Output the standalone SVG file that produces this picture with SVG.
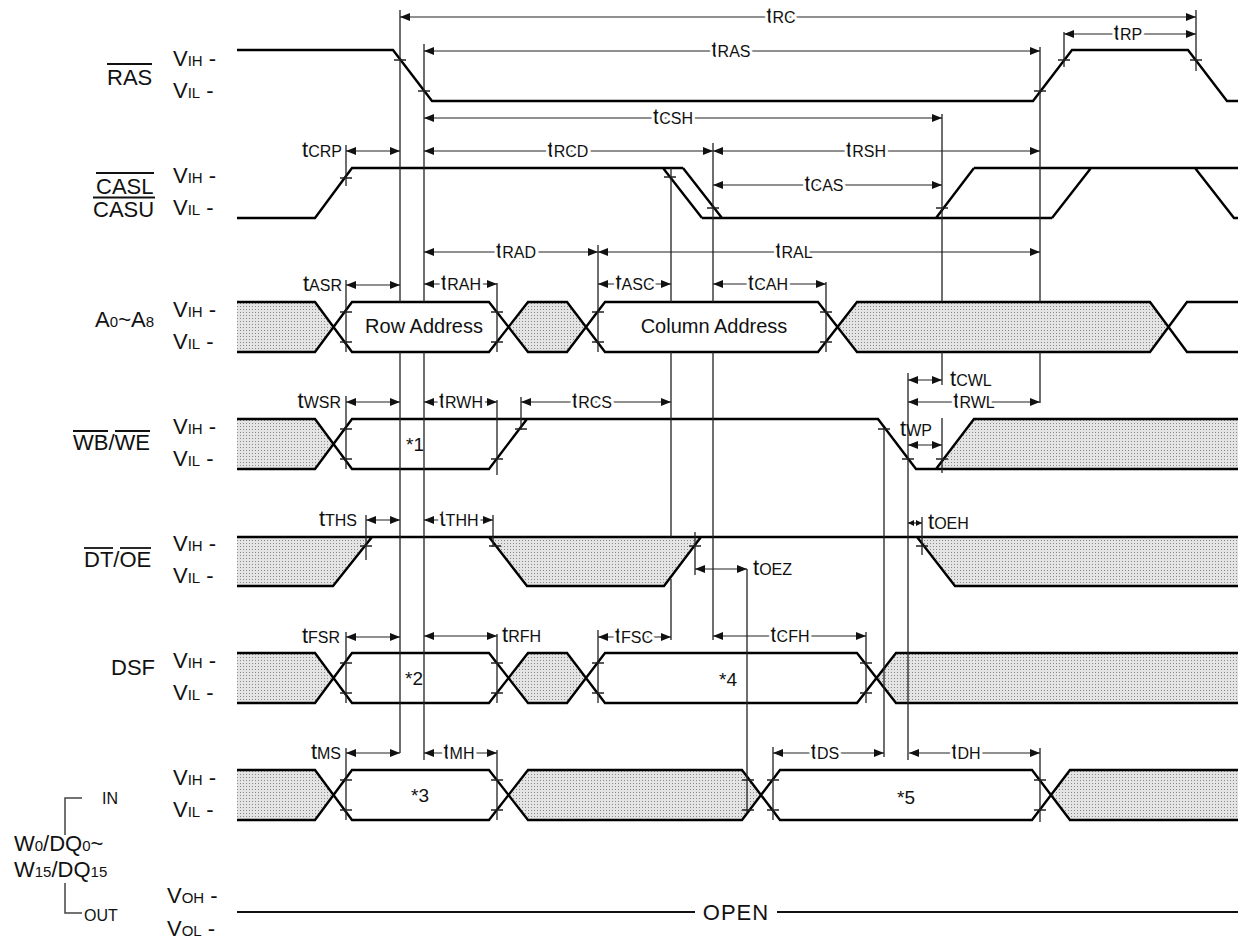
<svg xmlns="http://www.w3.org/2000/svg" width="1238" height="940" viewBox="0 0 1238 940">
<defs>
<pattern id="dots" width="3" height="3" patternUnits="userSpaceOnUse"><rect width="3" height="3" fill="#e4e4e4"/><rect width="1" height="1" fill="#8a8a8a"/></pattern>
<marker id="ah" markerUnits="userSpaceOnUse" markerWidth="10" markerHeight="8" refX="10" refY="4" orient="auto-start-reverse"><path d="M0,0 L10,4 L0,8 z" fill="#111"/></marker>
<marker id="ahs" markerUnits="userSpaceOnUse" markerWidth="6" markerHeight="6" refX="6" refY="3" orient="auto-start-reverse"><path d="M0,0 L6,3 L0,6 z" fill="#111"/></marker>
<style>
text{font-family:"Liberation Sans",Arial,sans-serif;fill:#111}
.sig{font-size:22px}
.sub{font-size:15px}
.tm{font-size:16px}
.tt{font-size:22px}
.halo{stroke:#fff;stroke-width:6px;paint-order:stroke;stroke-linejoin:round}
.box{font-size:20px}
.wave{fill:none;stroke:#000;stroke-width:2.4;stroke-linejoin:miter}
.gray{fill:url(#dots);stroke:none}
.ref{stroke:#222;stroke-width:1.3;fill:none}
.tick{stroke:#222;stroke-width:1.3;fill:none}
.dim{stroke:#222;stroke-width:1.2;fill:none;marker-start:url(#ah);marker-end:url(#ah)}
.dims{stroke:#222;stroke-width:1.2;fill:none;marker-start:url(#ahs);marker-end:url(#ahs)}
.ovl{stroke:#111;stroke-width:1.8}
</style>
</defs>
<rect width="1238" height="940" fill="#fff"/>

<!-- signal: RAS -->
<g id="sig-ras">
<text class="sig" x="107" y="85">RAS</text>
<line class="ovl" x1="107" y1="64" x2="152" y2="64"/>
<text class="sig" x="173" y="66">V<tspan class="sub">IH</tspan> -</text>
<text class="sig" x="173" y="98">V<tspan class="sub">IL</tspan> -</text>
<path class="wave" d="M237,50 H393 L432,101 H1033 L1072,50 H1188 L1227,101 H1238"/>
</g>

<!-- signal: CASL/CASU -->
<g id="sig-cas">
<text class="sig" x="96" y="194">CASL</text>
<text class="sig" x="93" y="217">CASU</text>
<line class="ovl" x1="96" y1="173" x2="154" y2="173"/>
<line class="ovl" x1="93" y1="197.5" x2="155" y2="197.5"/>
<text class="sig" x="173" y="183">V<tspan class="sub">IH</tspan> -</text>
<text class="sig" x="173" y="215">V<tspan class="sub">IL</tspan> -</text>
<path class="wave" d="M237,218 H315 L352,168 H683 M663,168 L702,218 M683,168 L722,218 M702,218 H1052 M936,218 L974,168 M1052,218 L1091,168 M974,168 H1238 M1195,168 L1234,218 H1238"/>
</g>

<!-- signal: A0~A8 -->
<g id="sig-addr">
<text class="sig" x="154" y="327" text-anchor="end">A<tspan class="sub">0</tspan>~A<tspan class="sub">8</tspan></text>
<text class="sig" x="173" y="317">V<tspan class="sub">IH</tspan> -</text>
<text class="sig" x="173" y="349">V<tspan class="sub">IL</tspan> -</text>
<polygon class="gray" points="237,302 315,302 333,327 315,352 237,352"/>
<polygon class="gray" points="508,327 528,302 567,302 586,327 567,352 528,352"/>
<polygon class="gray" points="837,327 857,302 1150,302 1168,327 1150,352 857,352"/>
<path class="wave" d="M237,302 H315 L352,352 H489 L528,302 H567 L605,352 H818 L857,302 H1150 L1187,352 H1238 M237,352 H315 L352,302 H489 L528,352 H567 L605,302 H818 L857,352 H1150 L1187,302 H1238"/>
<text class="box" x="424" y="333" text-anchor="middle">Row Address</text>
<text class="box" x="714" y="333" text-anchor="middle">Column Address</text>
</g>

<!-- signal: WB/WE -->
<g id="sig-wbwe">
<text class="sig" x="73" y="450">WB/WE</text>
<line class="ovl" x1="73" y1="431" x2="108" y2="431"/>
<line class="ovl" x1="115" y1="431" x2="150" y2="431"/>
<text class="sig" x="173" y="434">V<tspan class="sub">IH</tspan> -</text>
<text class="sig" x="173" y="466">V<tspan class="sub">IL</tspan> -</text>
<polygon class="gray" points="237,419 315,419 333,444 315,469 237,469"/>
<polygon class="gray" points="974,419 1238,419 1238,469 936,469"/>
<path class="wave" d="M237,419 H315 L352,469 H489 L527,419 H878 L916,469 H1238 M237,469 H315 L352,419 H527 M936,469 L974,419 H1238"/>
<text class="box" x="406" y="451" style="font-size:19px">*1</text>
</g>

<!-- signal: DT/OE -->
<g id="sig-dtoe">
<text class="sig" x="84" y="567">DT/OE</text>
<line class="ovl" x1="84" y1="548" x2="113" y2="548"/>
<line class="ovl" x1="120" y1="548" x2="151" y2="548"/>
<text class="sig" x="173" y="551">V<tspan class="sub">IH</tspan> -</text>
<text class="sig" x="173" y="583">V<tspan class="sub">IL</tspan> -</text>
<polygon class="gray" points="237,537 372,537 333,586 237,586"/>
<polygon class="gray" points="489,537 527,586 664,586 701,537"/>
<polygon class="gray" points="917,537 1238,537 1238,586 955,586"/>
<path class="wave" d="M237,537 H1238 M237,586 H333 L372,537 M489,537 L527,586 H664 L701,537 M917,537 L955,586 H1238"/>
</g>

<!-- signal: DSF -->
<g id="sig-dsf">
<text class="sig" x="111" y="675">DSF</text>
<text class="sig" x="173" y="668">V<tspan class="sub">IH</tspan> -</text>
<text class="sig" x="173" y="700">V<tspan class="sub">IL</tspan> -</text>
<polygon class="gray" points="237,653 315,653 333,678 315,703 237,703"/>
<polygon class="gray" points="508,678 528,653 567,653 586,678 567,703 528,703"/>
<polygon class="gray" points="876,678 896,653 1238,653 1238,703 896,703"/>
<path class="wave" d="M237,653 H315 L352,703 H489 L528,653 H567 L605,703 H857 L896,653 H1238 M237,703 H315 L352,653 H489 L528,703 H567 L605,653 H857 L896,703 H1238"/>
<text class="box" x="405" y="685" style="font-size:19px">*2</text>
<text class="box" x="719" y="686" style="font-size:19px">*4</text>
</g>

<!-- signal: W0/DQ0~W15/DQ15 -->
<g id="sig-dq">
<text class="sig" x="14" y="851">W<tspan class="sub">0</tspan>/DQ<tspan class="sub">0</tspan>~</text>
<text class="sig" x="14" y="877">W<tspan class="sub">15</tspan>/DQ<tspan class="sub">15</tspan></text>
<path d="M82,798 H65 V835 M65,883 V913 H82" fill="none" stroke="#444" stroke-width="1.5"/>
<text x="102" y="804" style="font-size:16px">IN</text>
<text x="84" y="921" style="font-size:16px">OUT</text>
<text class="sig" x="173" y="785">V<tspan class="sub">IH</tspan> -</text>
<text class="sig" x="173" y="817">V<tspan class="sub">IL</tspan> -</text>
<text class="sig" x="167" y="903">V<tspan class="sub">OH</tspan> -</text>
<text class="sig" x="167" y="936">V<tspan class="sub">OL</tspan> -</text>
<polygon class="gray" points="237,770 315,770 333,795 315,820 237,820"/>
<polygon class="gray" points="508,795 528,770 742,770 761,795 742,820 528,820"/>
<polygon class="gray" points="1051,795 1070,770 1238,770 1238,820 1070,820"/>
<path class="wave" d="M237,770 H315 L352,820 H489 L528,770 H742 L780,820 H1032 L1070,770 H1238 M237,820 H315 L352,770 H489 L528,820 H742 L780,770 H1032 L1070,820 H1238"/>
<text class="box" x="411" y="802" style="font-size:19px">*3</text>
<text class="box" x="897" y="804" style="font-size:19px">*5</text>
<path d="M237,912 H695 M777,912 H1238" fill="none" stroke="#111" stroke-width="2"/>
<text x="736" y="920" text-anchor="middle" style="font-size:22px;letter-spacing:1px">OPEN</text>
</g>

<!-- connectors: reference lines, ticks, timing dimensions -->
<g id="connectors">
<path class="ref" d="M400,10 V302 M400,352 V753 M424,44 V302 M424,352 V760 M1040,47 V302 M1040,352 V403 M1040,748 V822 M1196,10 V71 M1064,32 V67 M942,114 V302 M942,352 V385 M942,418 V473 M671,168 V302 M671,352 V537 M671,579 V640 M713,143 V302 M713,352 V640 M346,145 V186 M346,280 V352 M346,396 V469 M346,632 V703 M346,748 V820 M366,515 V560 M497,283 V352 M497,400 V475 M497,634 V703 M497,750 V820 M493,515 V547 M521,397 V430 M598,245 V352 M598,630 V703 M826,282 V352 M695,532 V575 M747,569 V812 M773,747 V820 M866,632 V703 M884,428 V757 M908,373 V760 M922,517 V555"/>
<path class="tick" d="M394,60 h12 M418,91 h12 M1034,91 h12 M1058,60 h12 M1190,60 h12 M340,178 h12 M664,177 h12 M707,208 h12 M936,208 h12 M340,312 h12 M340,342 h12 M491,312 h12 M491,342 h12 M592,312 h12 M592,342 h12 M820,312 h12 M820,342 h12 M340,429 h12 M340,459 h12 M491,459 h12 M515,429 h12 M878,429 h12 M902,459 h12 M936,459 h12 M360,546 h12 M489,546 h12 M689,546 h12 M916,546 h12 M340,663 h12 M340,693 h12 M491,663 h12 M491,693 h12 M592,663 h12 M592,693 h12 M860,663 h12 M860,693 h12 M340,780 h12 M340,810 h12 M491,780 h12 M491,810 h12 M742,780 h12 M742,810 h12 M767,780 h12 M767,810 h12 M1034,780 h12 M1034,810 h12"/>

<line class="dim" x1="400" y1="17" x2="1196" y2="17"/>
<text class="tm halo" x="781" y="23" text-anchor="middle"><tspan class="tt">t</tspan>RC</text>
<line class="dim" x1="424" y1="51" x2="1040" y2="51"/>
<text class="tm halo" x="731" y="57" text-anchor="middle"><tspan class="tt">t</tspan>RAS</text>
<line class="dim" x1="1064" y1="34" x2="1196" y2="34"/>
<text class="tm halo" x="1128" y="40" text-anchor="middle"><tspan class="tt">t</tspan>RP</text>
<line class="dim" x1="424" y1="118" x2="942" y2="118"/>
<text class="tm halo" x="673" y="124" text-anchor="middle"><tspan class="tt">t</tspan>CSH</text>
<line class="dim" x1="424" y1="151" x2="713" y2="151"/>
<text class="tm halo" x="568" y="157" text-anchor="middle"><tspan class="tt">t</tspan>RCD</text>
<line class="dim" x1="713" y1="151" x2="1040" y2="151"/>
<text class="tm halo" x="866" y="157" text-anchor="middle"><tspan class="tt">t</tspan>RSH</text>
<line class="dim" x1="713" y1="185" x2="942" y2="185"/>
<text class="tm halo" x="824" y="191" text-anchor="middle"><tspan class="tt">t</tspan>CAS</text>
<line class="dim" x1="346" y1="151" x2="400" y2="151"/>
<text class="tm" x="342" y="157" text-anchor="end"><tspan class="tt">t</tspan>CRP</text>

<line class="dim" x1="424" y1="252" x2="598" y2="252"/>
<text class="tm halo" x="516" y="258" text-anchor="middle"><tspan class="tt">t</tspan>RAD</text>
<line class="dim" x1="598" y1="252" x2="1040" y2="252"/>
<text class="tm halo" x="794" y="258" text-anchor="middle"><tspan class="tt">t</tspan>RAL</text>
<line class="dim" x1="346" y1="285" x2="400" y2="285"/>
<text class="tm" x="342" y="291" text-anchor="end"><tspan class="tt">t</tspan>ASR</text>
<line class="dim" x1="424" y1="284" x2="497" y2="284"/>
<text class="tm halo" x="461" y="290" text-anchor="middle"><tspan class="tt">t</tspan>RAH</text>
<line class="dim" x1="598" y1="284" x2="671" y2="284"/>
<text class="tm halo" x="635" y="290" text-anchor="middle"><tspan class="tt">t</tspan>ASC</text>
<line class="dim" x1="713" y1="284" x2="826" y2="284"/>
<text class="tm halo" x="768" y="290" text-anchor="middle"><tspan class="tt">t</tspan>CAH</text>

<line class="dim" x1="346" y1="402" x2="400" y2="402"/>
<text class="tm" x="341" y="408" text-anchor="end"><tspan class="tt">t</tspan>WSR</text>
<line class="dim" x1="424" y1="402" x2="497" y2="402"/>
<text class="tm halo" x="461" y="408" text-anchor="middle"><tspan class="tt">t</tspan>RWH</text>
<line class="dim" x1="521" y1="402" x2="671" y2="402"/>
<text class="tm halo" x="592" y="408" text-anchor="middle"><tspan class="tt">t</tspan>RCS</text>
<line class="dim" x1="908" y1="380" x2="942" y2="380"/>
<text class="tm" x="950" y="386"><tspan class="tt">t</tspan>CWL</text>
<line class="dim" x1="908" y1="402" x2="1040" y2="402"/>
<text class="tm halo" x="974" y="408" text-anchor="middle"><tspan class="tt">t</tspan>RWL</text>
<line class="dim" x1="908" y1="445" x2="942" y2="445"/>
<text class="tm" x="900" y="436"><tspan class="tt">t</tspan>WP</text>

<line class="dim" x1="366" y1="520" x2="400" y2="520"/>
<text class="tm" x="357" y="526" text-anchor="end"><tspan class="tt">t</tspan>THS</text>
<line class="dim" x1="424" y1="520" x2="493" y2="520"/>
<text class="tm halo" x="459" y="526" text-anchor="middle"><tspan class="tt">t</tspan>THH</text>
<line class="dim" x1="695" y1="569" x2="747" y2="569"/>
<text class="tm" x="753" y="575"><tspan class="tt">t</tspan>OEZ</text>
<line class="dims" x1="908" y1="523" x2="922" y2="523"/>
<text class="tm" x="928" y="529"><tspan class="tt">t</tspan>OEH</text>

<line class="dim" x1="346" y1="637" x2="400" y2="637"/>
<text class="tm" x="340" y="643" text-anchor="end"><tspan class="tt">t</tspan>FSR</text>
<line class="dim" x1="424" y1="636" x2="497" y2="636"/>
<text class="tm" x="502" y="642"><tspan class="tt">t</tspan>RFH</text>
<line class="dim" x1="598" y1="637" x2="671" y2="637"/>
<text class="tm halo" x="634" y="643" text-anchor="middle"><tspan class="tt">t</tspan>FSC</text>
<line class="dim" x1="713" y1="636" x2="866" y2="636"/>
<text class="tm halo" x="790" y="642" text-anchor="middle"><tspan class="tt">t</tspan>CFH</text>

<line class="dim" x1="346" y1="753" x2="400" y2="753"/>
<text class="tm" x="341" y="759" text-anchor="end"><tspan class="tt">t</tspan>MS</text>
<line class="dim" x1="424" y1="753" x2="497" y2="753"/>
<text class="tm halo" x="459" y="759" text-anchor="middle"><tspan class="tt">t</tspan>MH</text>
<line class="dim" x1="773" y1="753" x2="884" y2="753"/>
<text class="tm halo" x="825" y="759" text-anchor="middle"><tspan class="tt">t</tspan>DS</text>
<line class="dim" x1="909" y1="753" x2="1040" y2="753"/>
<text class="tm halo" x="966" y="759" text-anchor="middle"><tspan class="tt">t</tspan>DH</text>
</g>
</svg>
